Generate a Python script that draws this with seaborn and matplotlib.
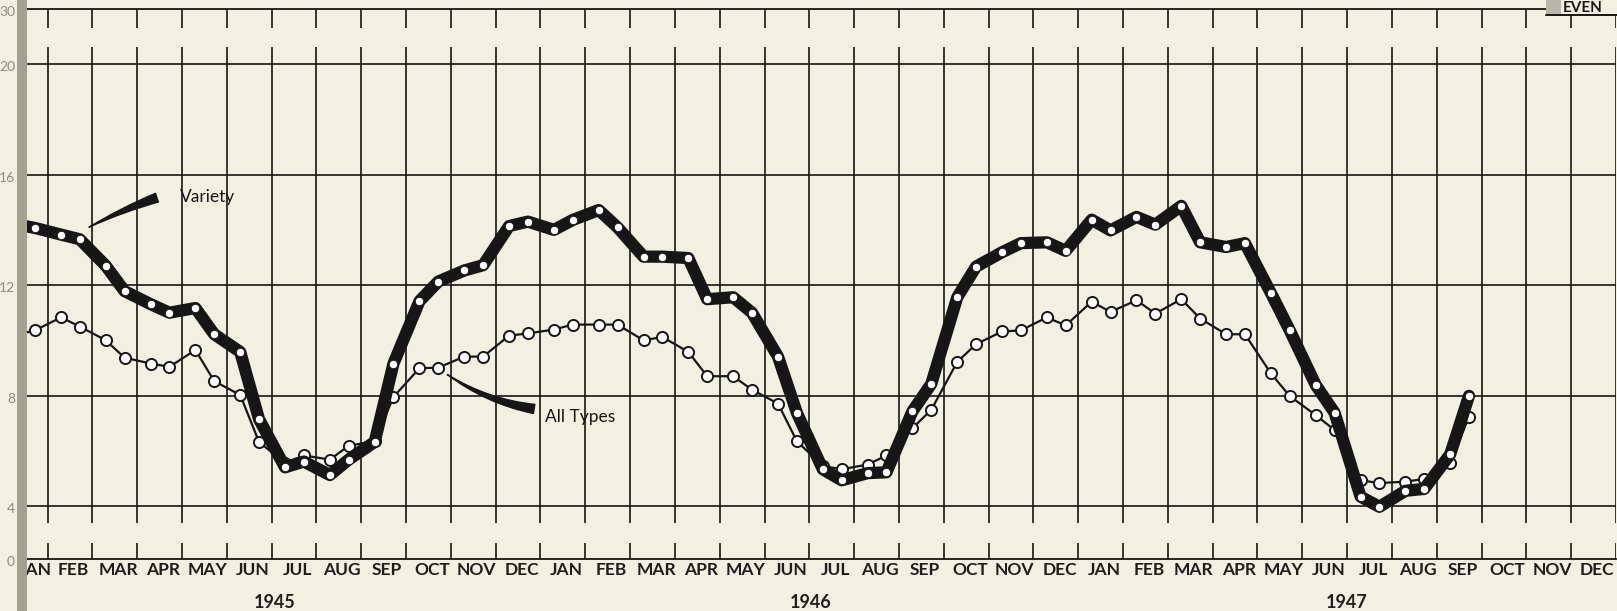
import pandas as pd
import seaborn as sns
import matplotlib.pyplot as plt
from matplotlib.patches import Rectangle

# ---- data (two readings per month, JAN 1945 .. SEP 1947) ----
month_names = ["JAN", "FEB", "MAR", "APR", "MAY", "JUN",
               "JUL", "AUG", "SEP", "OCT", "NOV", "DEC"]
months = month_names * 3
years = ["1945", "1946", "1947"]
year_centres = [6.08, 18.04, 30.0]
half_pos = [0.3, 0.72]   # where the first / second half-month reading sits in its month

variety = [
    14.20, 14.07, 13.83, 13.66, 12.70, 11.78, 11.31, 11.00, 11.17, 10.22,
    9.58, 7.14, 5.40, 5.61, 5.12, 5.68, 6.32, 9.16, 11.42, 12.13,
    12.53, 12.72, 14.14, 14.30,
    14.00, 14.36, 14.72, 14.09, 13.03, 13.03, 12.98, 11.49, 11.56, 11.00,
    9.41, 7.38, 5.33, 4.93, 5.19, 5.22, 7.43, 8.42, 11.56, 12.67,
    13.19, 13.52, 13.55, 13.24,
    14.37, 13.98, 14.47, 14.19, 14.87, 13.55, 13.38, 13.52, 11.71, 10.36,
    8.38, 7.38, 4.34, 3.97, 4.55, 4.62, 5.87, 7.99,
]
all_types = [
    10.20, 10.36, 10.83, 10.50, 10.00, 9.37, 9.16, 9.04, 9.65, 8.52,
    8.02, 6.32, 5.55, 5.83, 5.68, 6.18, 6.35, 7.95, 8.99, 9.01,
    9.41, 9.41, 10.17, 10.25,
    10.39, 10.57, 10.57, 10.57, 10.00, 10.12, 9.58, 8.70, 8.70, 8.21,
    7.71, 6.35, 5.45, 5.33, 5.50, 5.83, 6.82, 7.48, 9.22, 9.86,
    10.32, 10.36, 10.83, 10.54,
    11.40, 11.03, 11.45, 10.97, 11.49, 10.79, 10.22, 10.22, 8.80, 7.98,
    7.29, 6.75, 4.93, 4.83, 4.88, 4.98, 5.54, 7.24,
]

y_grid = [4, 8, 12, 16, 20]
y_tick_pos = [2.08, 4, 8, 12, 16, 20, 22.0]
y_tick_labels = ["0", "4", "8", "12", "16", "20", "30"]

# month index + position inside the month
t = [m + h for m in range(len(variety) // 2) for h in half_pos]
df = pd.DataFrame({"t": t, "variety": variety, "all_types": all_types})

W, H = 1617, 611
bg = "#f2f0e0"
ink = "#161616"

sns.set_theme(style="white")
plt.rcParams["font.family"] = ["Lato", "DejaVu Sans"]

fig = plt.figure(figsize=(W / 100, H / 100), dpi=100)
fig.patch.set_facecolor(bg)
ax = fig.add_axes([27 / W, (H - 559) / H, (1616 - 27) / W, (559 - 9) / H])
ax.set_facecolor(bg)

x0, x1 = 0.542, 36.0
y0, y1 = 2.08, 22.0
ax.set_xlim(x0, x1)
ax.set_ylim(y0, y1)

# grid: horizontal full lines, vertical month lines with the two scale breaks
ax.hlines(y_grid, x0, x1, color=ink, lw=1.2, zorder=1)
vx = list(range(1, 37))
ax.vlines(vx, 3.38, 20.62, color=ink, lw=1.2, zorder=1)
ax.vlines(vx, 21.30, y1, color=ink, lw=1.2, zorder=1)
ax.vlines(vx, y0, 2.66, color=ink, lw=1.2, zorder=1)

for side in ["left", "right"]:
    ax.spines[side].set_visible(False)
for side in ["top", "bottom"]:
    ax.spines[side].set_color(ink)
    ax.spines[side].set_linewidth(1.3)

# series
sns.lineplot(data=df, x="t", y="all_types", ax=ax, color=ink, linewidth=1.6,
             marker="o", markersize=8, markerfacecolor="white",
             markeredgecolor=ink, markeredgewidth=1.4, errorbar=None,
             sort=False, zorder=3)
sns.lineplot(data=df, x="t", y="variety", ax=ax, color=ink, linewidth=8.8,
             marker="o", markersize=6, markerfacecolor="white",
             markeredgecolor=ink, markeredgewidth=0.6, errorbar=None,
             sort=False, zorder=4, solid_joinstyle="round", solid_capstyle="round")
ax.set_xticks([])
ax.set_yticks([])
ax.set_xlabel("")
ax.set_ylabel("")

# annotations
ax.text(3.96, 15.2, "Variety", fontsize=12.5, color=ink, va="center", ha="left")
ax.annotate("", xy=(1.87, 14.05), xytext=(3.5, 15.2),
            arrowprops=dict(arrowstyle="wedge,tail_width=0.55,shrink_factor=0.5",
                            color=ink, connectionstyle="arc3,rad=0.04"))
ax.text(12.1, 7.22, "All Types", fontsize=12.5, color=ink, va="center", ha="left")
ax.annotate("", xy=(9.87, 8.82), xytext=(11.92, 7.5),
            arrowprops=dict(arrowstyle="wedge,tail_width=0.55,shrink_factor=0.5",
                            color=ink, connectionstyle="arc3,rad=-0.12"))

# month and year labels
label_x = [i + 0.58 for i in range(len(months))]
label_x[0] = 0.72   # first JAN sits half under the page gutter, keep it clear of the "0"
for xc, name in zip(label_x, months):
    ax.annotate(name, xy=(xc, 36), xycoords=("data", "figure pixels"),
                ha="center", va="baseline", fontsize=12.5, fontweight="bold",
                color="#1e1e1e", annotation_clip=False)
for yr, xc in zip(years, year_centres):
    ax.annotate(yr, xy=(xc, 3), xycoords=("data", "figure pixels"),
                ha="center", va="baseline", fontsize=13, fontweight="bold",
                color="#1e1e1e", annotation_clip=False)

# y labels, squeezed left of the page gutter
for pos, lab in zip(y_tick_pos, y_tick_labels):
    ax.annotate(lab, xy=(15, pos), xycoords=("figure pixels", "data"),
                xytext=(0, -3), textcoords="offset pixels",
                ha="right", va="center", fontsize=10, color="#8e8c7e",
                annotation_clip=False)

# gutter shadow on the left (over the clipped JAN label)
ax.add_patch(Rectangle((17 / W, 0), 10 / W, 1, transform=fig.transFigure,
                       facecolor="#a3a190", edgecolor="none", zorder=20,
                       clip_on=False))

# corner tab at the top right
ax.add_patch(Rectangle((1546 / W, 1 - 15 / H), 71 / W, 15 / H,
                       transform=fig.transFigure, facecolor=bg,
                       edgecolor="none", zorder=20, clip_on=False))
ax.add_patch(Rectangle((1546 / W, 1 - 14 / H), 15 / W, 14 / H,
                       transform=fig.transFigure, facecolor="#b8b6aa",
                       edgecolor="none", zorder=21, clip_on=False))
fig.text(1563 / W, 1 - 12 / H, "EVEN", fontsize=11, fontweight="bold",
         color=ink, va="baseline", ha="left", zorder=22)
fig.lines.append(plt.Line2D([1546 / W, 1], [1 - 15 / H, 1 - 15 / H],
                            transform=fig.transFigure, color=ink, lw=1.4,
                            zorder=22))

fig.savefig("out.png", dpi=100, facecolor=bg)
